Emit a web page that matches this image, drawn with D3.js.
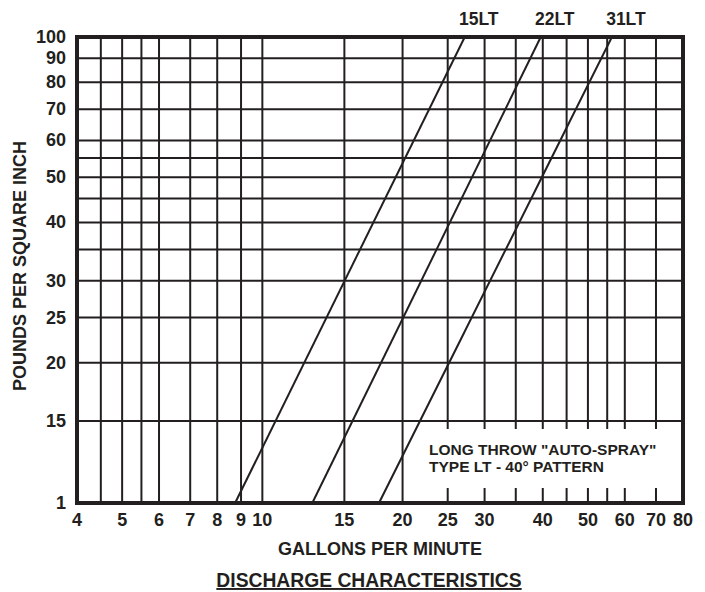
<!DOCTYPE html>
<html>
<head>
<meta charset="utf-8">
<script src="https://cdn.jsdelivr.net/npm/d3@7"></script>
<style>
  body { margin: 0; background: #fff; }
  svg text { font-family: "Liberation Sans", Arial, sans-serif; font-weight: bold; fill: #231f20; }
</style>
</head>
<body>
<div id="chart"></div>
<script>
(function(){
    // Data
    const xTickValues = [4, 5, 6, 7, 8, 9, 10, 15, 20, 25, 30, 40, 50, 60, 70, 80];
    const xGridValues = [4.5, 5, 5.5, 6, 7, 8, 9, 10, 15, 20, 25, 30, 35, 40, 45, 50, 55, 60, 70];
    const yTickValues = [10, 15, 20, 25, 30, 40, 50, 60, 70, 80, 90, 100];
    const yTickLabels = ["1", "15", "20", "25", "30", "40", "50", "60", "70", "80", "90", "100"];
    const yGridValues = [15, 20, 25, 30, 35, 40, 45, 50, 55, 60, 70, 80, 90];

    const models = ["15LT", "22LT", "31LT"];
    const psi = [10, 100];
    const gpm15LT = [8.74, 27.2];
    const gpm22LT = [12.8, 39.6];
    const gpm31LT = [17.8, 56.3];
    const seriesGpm = [gpm15LT, gpm22LT, gpm31LT];

    const ink = "#231f20";
    const width = 705, height = 592;
    const margin = { top: 37, right: 22, bottom: 89, left: 77 };

    const svg = d3.select("#chart")
        .append("svg")
        .attr("width", width)
        .attr("height", height);

    const x = d3.scaleLog()
        .domain([4, 80])
        .range([margin.left, width - margin.right]);

    const y = d3.scaleLog()
        .domain([10, 100])
        .range([height - margin.bottom, margin.top]);

    // Grid lines
    svg.append("g")
        .selectAll("line")
        .data(xGridValues)
        .enter()
        .append("line")
        .attr("x1", d => x(d))
        .attr("x2", d => x(d))
        .attr("y1", y(10))
        .attr("y2", y(100))
        .attr("stroke", ink)
        .attr("stroke-width", 2);

    svg.append("g")
        .selectAll("line")
        .data(yGridValues)
        .enter()
        .append("line")
        .attr("x1", x(4))
        .attr("x2", x(80))
        .attr("y1", d => y(d))
        .attr("y2", d => y(d))
        .attr("stroke", ink)
        .attr("stroke-width", 2);

    // Note box (blanks the grid behind it)
    svg.append("rect")
        .attr("x", 421)
        .attr("y", 429)
        .attr("width", 252)
        .attr("height", 59)
        .attr("fill", "#fff");

    const note = svg.append("text")
        .attr("x", 429)
        .attr("y", 455)
        .style("font-size", "15.5px");
    note.append("tspan").attr("x", 429).text('LONG THROW "AUTO-SPRAY"');
    note.append("tspan").attr("x", 429).attr("dy", 17).text("TYPE LT - 40\u00b0 PATTERN");

    // Series lines
    const line = d3.line()
        .x(d => x(d[0]))
        .y(d => y(d[1]));

    seriesGpm.forEach((gpm, i) => {
        const pts = gpm.map((g, j) => [g, psi[j]]);
        svg.append("path")
            .datum(pts)
            .attr("fill", "none")
            .attr("stroke", ink)
            .attr("stroke-width", 2)
            .attr("d", line);

        svg.append("text")
            .attr("x", x(gpm[1]) + 14)
            .attr("y", 25)
            .attr("text-anchor", "middle")
            .style("font-size", "17.5px")
            .text(models[i]);
    });

    // Border
    svg.append("rect")
        .attr("x", x(4))
        .attr("y", y(100))
        .attr("width", x(80) - x(4))
        .attr("height", y(10) - y(100))
        .attr("fill", "none")
        .attr("stroke", ink)
        .attr("stroke-width", 4);

    // Tick labels
    svg.append("g")
        .selectAll("text")
        .data(xTickValues)
        .enter()
        .append("text")
        .attr("x", d => x(d))
        .attr("y", 526)
        .attr("text-anchor", "middle")
        .style("font-size", "18px")
        .text(d => d);

    svg.append("g")
        .selectAll("text")
        .data(yTickValues)
        .enter()
        .append("text")
        .attr("x", 66)
        .attr("y", d => y(d) + 6)
        .attr("text-anchor", "end")
        .style("font-size", "18px")
        .text((d, i) => yTickLabels[i]);

    // Axis titles
    svg.append("text")
        .attr("x", 380)
        .attr("y", 555)
        .attr("text-anchor", "middle")
        .style("font-size", "18px")
        .text("GALLONS PER MINUTE");

    svg.append("text")
        .attr("transform", "translate(26, 266) rotate(-90)")
        .attr("text-anchor", "middle")
        .style("font-size", "18px")
        .text("POUNDS PER SQUARE INCH");

    svg.append("text")
        .attr("x", 369)
        .attr("y", 587)
        .attr("text-anchor", "middle")
        .style("font-size", "19.3px")
        .style("text-decoration", "underline")
        .text("DISCHARGE CHARACTERISTICS");
})();
</script>
</body>
</html>
